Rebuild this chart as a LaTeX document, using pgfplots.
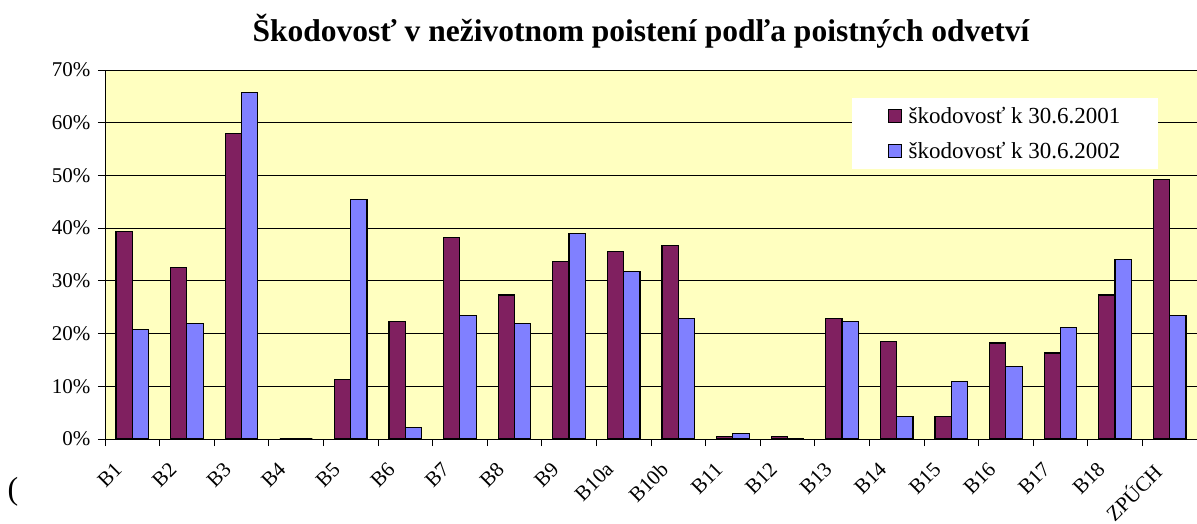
\documentclass[border=0pt]{standalone}
\usepackage{pgfplots}
\pgfplotsset{compat=1.18}
\usepackage{fontspec}
\setmainfont{Liberation Serif}
\definecolor{bgy}{RGB}{255,255,192}
\definecolor{plum}{RGB}{128,32,96}
\definecolor{peri}{RGB}{128,128,255}
\pgfplotstableread{
x a b
0 39.3 20.8
1 32.6 21.9
2 57.9 65.8
3 0 0
4 11.3 45.4
5 22.3 2.2
6 38.2 23.5
7 27.3 21.9
8 33.7 39.0
9 35.5 31.8
10 36.7 22.8
11 0.4 1.1
12 0.4 0
13 22.8 22.3
14 18.5 4.2
15 4.2 10.9
16 18.2 13.7
17 16.3 21.2
18 27.3 34.1
19 49.2 23.5
}\data
\begin{document}
\begin{tikzpicture}[x=1pt,y=1pt]
\path[use as bounding box] (0,0) rectangle (1197,523);
\node[anchor=base, font=\fontsize{31.5}{34}\selectfont\bfseries, inner sep=0pt] at (641,481) {Škodovosť v neživotnom poistení podľa poistných odvetví};
\node[font=\fontsize{32}{34}\selectfont, inner sep=0pt] at (13,31) {(};
\begin{axis}[
 at={(105pt,84pt)}, anchor=south west,
 scale only axis, width=1092pt, height=369pt,
 axis background/.style={fill=bgy},
 ybar=0pt, bar width=16.3pt,
 xmin=-0.5, xmax=19.5, ymin=0, ymax=70,
 ytick={0,10,...,70},
 yticklabel={\pgfmathprintnumber{\tick}\%},
 /pgf/number format/assume math mode=true,
 ymajorgrids, grid style={black, line width=0.8pt},
 axis line style={black, line width=0.9pt},
 tick align=outside, tick pos=left,
 major tick length=7pt,
 tick style={black, line width=0.8pt},
 xtick={0,...,19},
 xticklabels={B1,B2,B3,B4,B5,B6,B7,B8,B9,B10a,B10b,B11,B12,B13,B14,B15,B16,B17,B18,ZPÚCH},
 x tick style={draw=none},
 extra x ticks={-0.5,0.5,...,19.5},
 extra x tick labels={},
 extra x tick style={grid=none, x tick style={draw=black, line width=0.8pt}},
 x tick label style={xshift=-19pt, yshift=-10pt, rotate=45, anchor=north east, font=\fontsize{21}{23}\selectfont},
 y tick label style={font=\fontsize{21}{24}\selectfont, xshift=-4pt},
 every axis plot/.append style={draw=black, line width=1.2pt},
 legend style={at={(rel axis cs:0.684,0.924)}, anchor=north west, fill=white, draw=none,
   font=\fontsize{23}{25}\selectfont, inner xsep=36pt, inner ysep=7pt, row sep=13pt},
 legend cell align=left,
 legend image code/.code={\draw[#1,draw=black,line width=1.2pt] (0pt,-6.5pt) rectangle (13pt,6.5pt); \path[draw=none,fill=none] (18pt,0pt);},
]
\addplot[fill=plum] table[x=x,y=a]{\data};
\addplot[fill=peri] table[x=x,y=b]{\data};
\legend{škodovosť k 30.6.2001, škodovosť k 30.6.2002}
\end{axis}
\end{tikzpicture}
\end{document}
